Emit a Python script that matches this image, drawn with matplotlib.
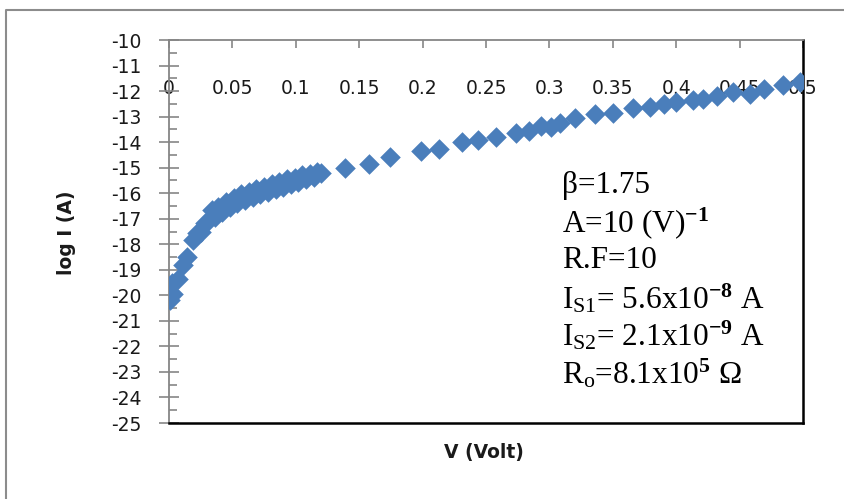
import matplotlib
matplotlib.use("Agg")
import matplotlib.pyplot as plt
from matplotlib.lines import Line2D
from matplotlib.ticker import MultipleLocator

# forward bias I-V data
volts = [0.001, 0.003, 0.002, 0.007, 0.011, 0.014, 0.019, 0.022, 0.025, 0.028,
         0.031, 0.034, 0.036, 0.039, 0.042, 0.045, 0.048, 0.051, 0.054, 0.057,
         0.060, 0.063, 0.066, 0.069, 0.072, 0.075, 0.078, 0.081, 0.084, 0.087,
         0.090, 0.093, 0.096, 0.099, 0.102, 0.105, 0.108, 0.111, 0.114, 0.117,
         0.120, 0.139, 0.158, 0.174, 0.199, 0.213, 0.231, 0.244, 0.258, 0.274,
         0.284, 0.293, 0.301, 0.308, 0.320, 0.336, 0.350, 0.366, 0.379, 0.390,
         0.400, 0.413, 0.421, 0.432, 0.445, 0.458, 0.469, 0.484, 0.498]
log_i = [-20.2, -19.95, -19.5, -19.35, -18.8, -18.5, -17.85, -17.55, -17.5, -17.15,
         -17.1, -16.65, -16.95, -16.55, -16.75, -16.35, -16.55, -16.2, -16.4, -16.05,
         -16.25, -15.95, -16.15, -15.85, -16.05, -15.75, -15.95, -15.65, -15.85, -15.55,
         -15.75, -15.45, -15.65, -15.4, -15.55, -15.3, -15.45, -15.25, -15.35, -15.15,
         -15.2, -15.0, -14.85, -14.6, -14.35, -14.25, -14.0, -13.9, -13.8, -13.65,
         -13.55, -13.35, -13.4, -13.25, -13.05, -12.88, -12.87, -12.68, -12.62, -12.5,
         -12.42, -12.35, -12.3, -12.2, -12.05, -12.1, -11.9, -11.78, -11.65]

x_ticks = [0, 0.05, 0.1, 0.15, 0.2, 0.25, 0.3, 0.35, 0.4, 0.45, 0.5]
x_labels = ["0", "0.05", "0.1", "0.15", "0.2", "0.25", "0.3", "0.35", "0.4", "0.45", "0.5"]
y_ticks = list(range(-25, -9))

params = ["β=1.75",
          r"A=10 (V)$^{\mathbf{-1}}$",
          "R.F=10",
          r"I$_{\mathrm{S1}}$= 5.6x10$^{\mathbf{-8}}$ A",
          r"I$_{\mathrm{S2}}$= 2.1x10$^{\mathbf{-9}}$ A",
          r"R$_{\mathrm{o}}$=8.1x10$^{\mathbf{5}}$ Ω"]

plt.rcParams['font.family'] = ['DejaVu Sans']
plt.rcParams['axes.unicode_minus'] = False
plt.rcParams['mathtext.fontset'] = 'custom'
plt.rcParams['mathtext.rm'] = 'Liberation Serif'
plt.rcParams['mathtext.it'] = 'Liberation Serif:italic'
plt.rcParams['mathtext.bf'] = 'Liberation Serif:bold'

fig = plt.figure(figsize=(8.45, 4.99), dpi=100)
ax = fig.add_axes([0.2, 0.1523, 0.7503, 0.7675])

ax.scatter(volts, log_i, marker='D', s=110, color='#4A7EBB', linewidths=0, zorder=3)

ax.set_xlim(0, 0.5)
ax.set_ylim(-25, -10)

# axis at the top, labels hanging inside the plot like the excel chart
ax.set_xticks(x_ticks)
ax.set_xticklabels(x_labels)
ax.tick_params(axis='x', which='major', top=True, bottom=False, labeltop=True,
               labelbottom=False, direction='in', length=6, width=1.2,
               color='#868686', labelsize=13.5, labelcolor='#1a1a1a', pad=-42)

ax.set_yticks(y_ticks)
ax.yaxis.set_minor_locator(MultipleLocator(0.5))
ax.tick_params(axis='y', which='major', direction='inout', length=14, width=1.2,
               color='#868686', labelsize=13.5, labelcolor='#1a1a1a', pad=13)
ax.tick_params(axis='y', which='minor', direction='in', length=5.5, width=1.2,
               color='#868686')

for side in ['left', 'top']:
    ax.spines[side].set_color('#868686')
    ax.spines[side].set_linewidth(1.3)
for side in ['right', 'bottom']:
    ax.spines[side].set_color('black')
    ax.spines[side].set_linewidth(1.8)

fig.text(0.573, 0.094, "V (Volt)", fontsize=13.5, fontweight='bold',
         ha='center', va='center', color='#1a1a1a')
fig.text(0.079, 0.533, "log I (A)", fontsize=13.5, fontweight='bold',
         rotation=90, ha='center', va='center', color='#1a1a1a')

for i, line in enumerate(params):
    ax.text(0.62, 0.621 - i * 0.0984, line, transform=ax.transAxes,
            fontsize=22.5, family='Liberation Serif', ha='left', va='center',
            color='black')

# outer chart frame (only top and left are inside the picture)
fig.add_artist(Line2D([6 / 845, 6 / 845, 1.0], [0.0, 1 - 10 / 499, 1 - 10 / 499],
                      transform=fig.transFigure, color='#8c8c8c', lw=1.5))

fig.savefig("out.png", dpi=100)
